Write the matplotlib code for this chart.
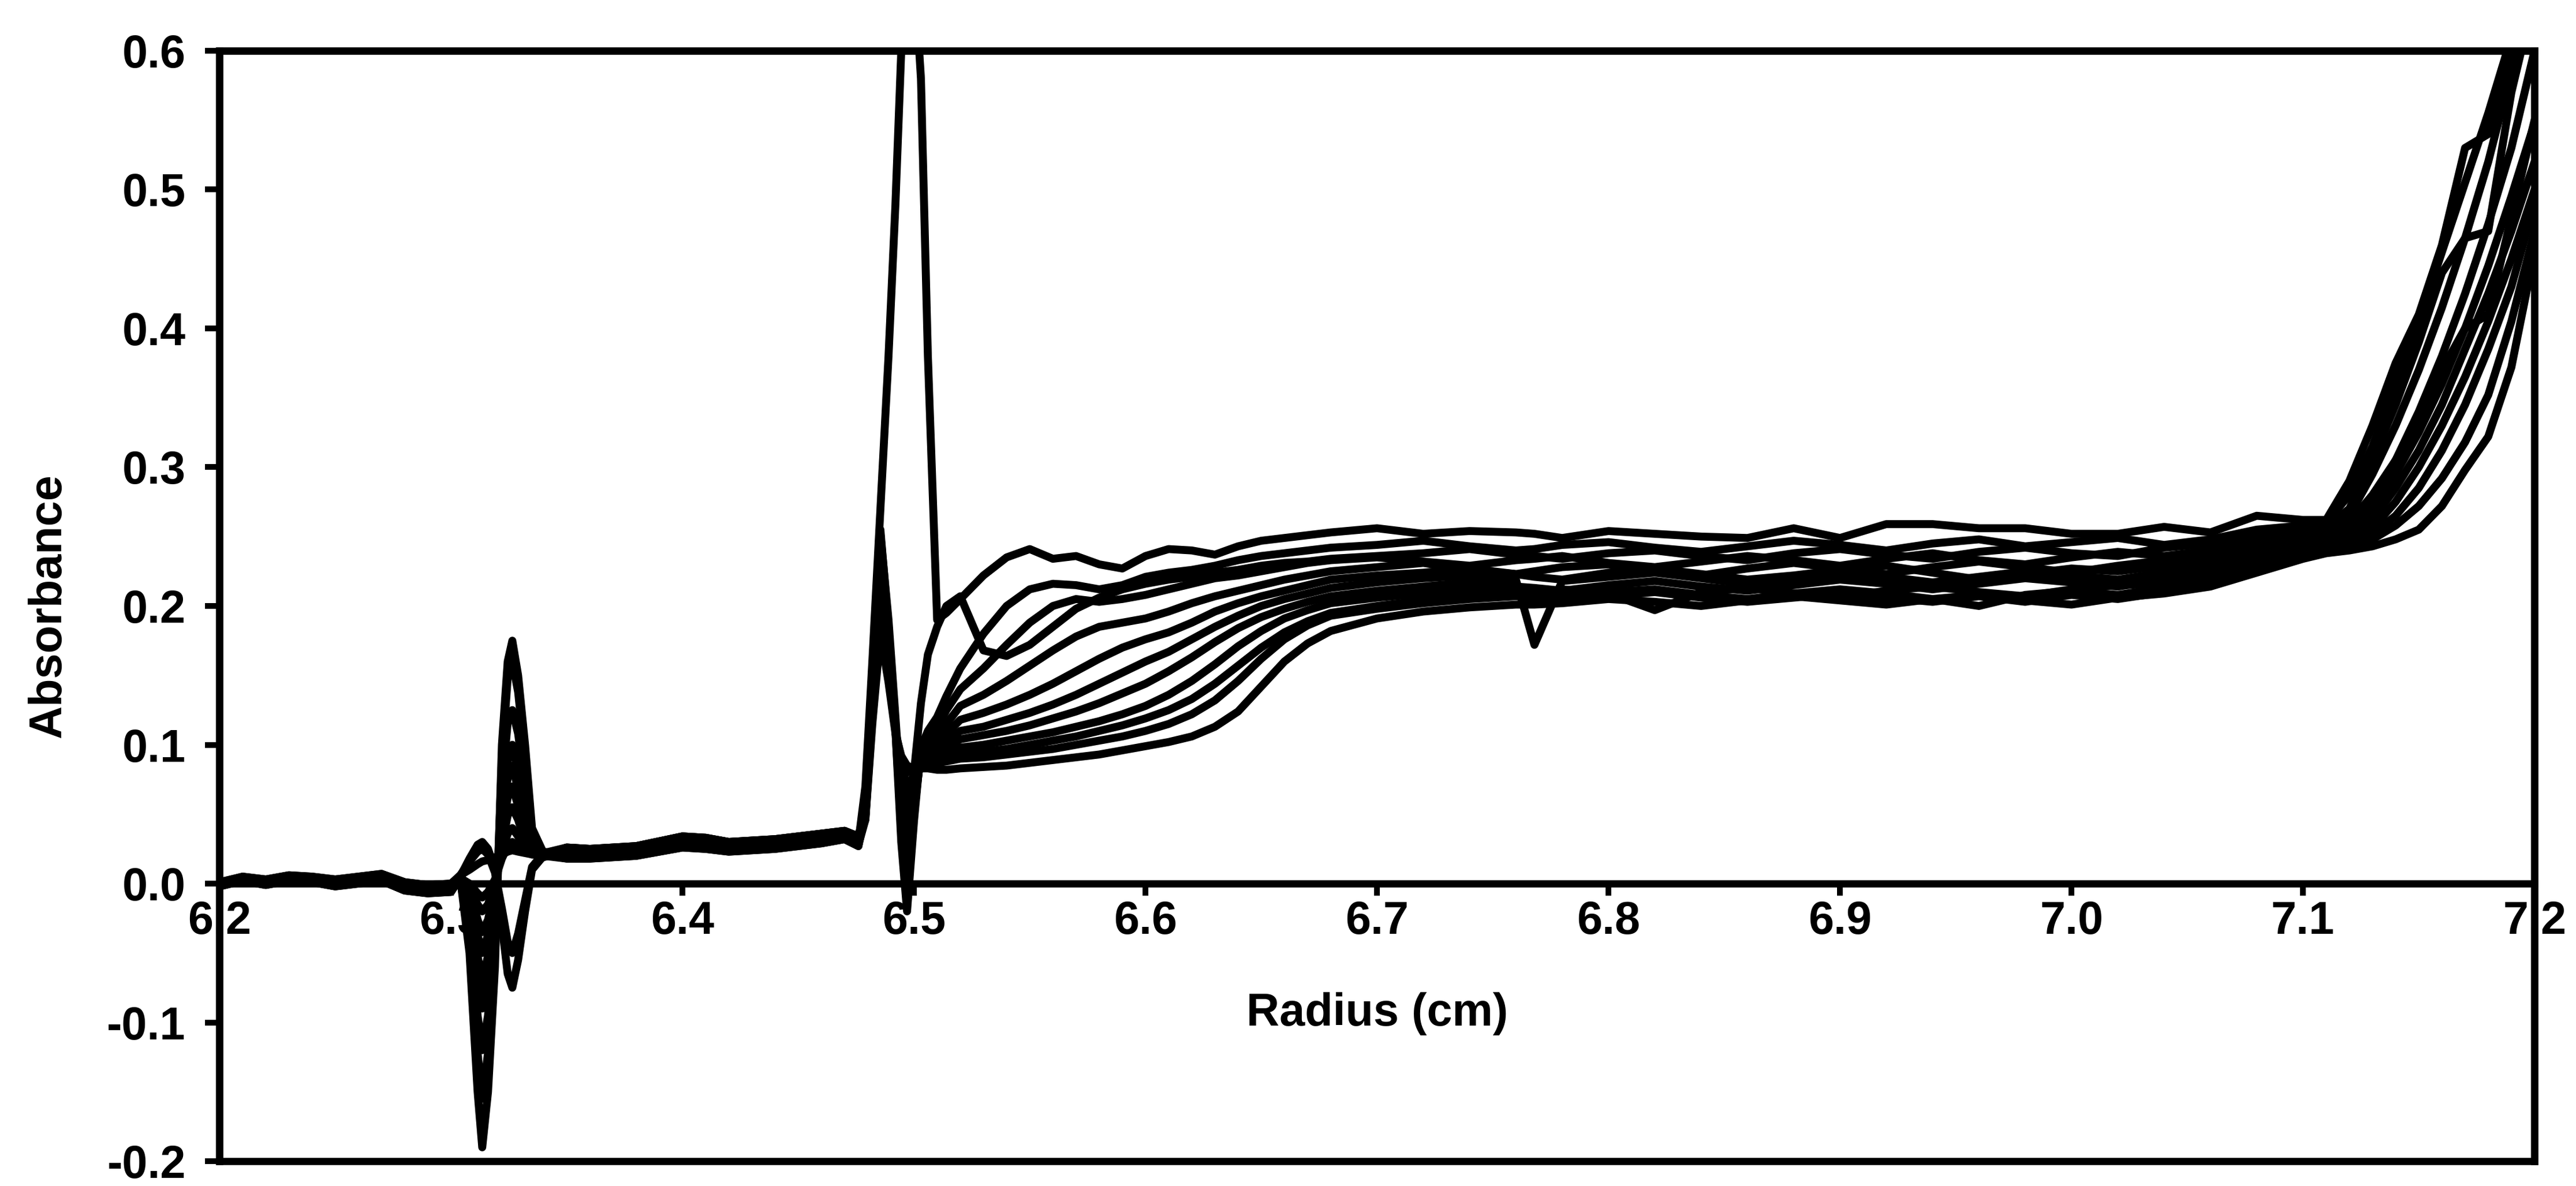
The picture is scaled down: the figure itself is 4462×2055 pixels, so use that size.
"""
Sedimentation velocity scans: absorbance vs radius, 12 overlaid scans.
"""

import matplotlib
matplotlib.use("Agg")
import matplotlib.pyplot as plt
from matplotlib.ticker import FormatStrFormatter

# ── data ──────────────────────────────────────────────────────────────────────
RADIUS = [
    6.200, 6.210, 6.220, 6.230, 6.240, 6.250, 6.260, 6.270, 6.280, 6.290, 6.300,
    6.304, 6.308, 6.3115, 6.3135, 6.316, 6.319, 6.322, 6.3245, 6.3265, 6.329, 6.332, 6.335, 6.340,
    6.350, 6.360, 6.380, 6.400, 6.410, 6.420, 6.440, 6.460, 6.470, 6.476,
    6.479, 6.482, 6.4855, 6.489, 6.492, 6.4945, 6.497, 6.500, 6.503, 6.506, 6.510, 6.514, 6.520,
    6.530, 6.540, 6.550, 6.560, 6.570, 6.580, 6.590, 6.600, 6.610, 6.620, 6.630, 6.640,
    6.650, 6.660, 6.670, 6.680,
    6.700, 6.720, 6.740, 6.760, 6.768, 6.780, 6.800, 6.820, 6.840, 6.860, 6.880, 6.900,
    6.920, 6.940, 6.960, 6.980, 7.000, 7.020, 7.040, 7.060, 7.080, 7.100,
    7.110, 7.120, 7.130, 7.140, 7.150, 7.160, 7.170, 7.180, 7.190, 7.200,
]

SCAN_01 = [
    0.000, 0.004, 0.002, 0.005, 0.003, 0.001, 0.003, 0.005, -0.001, -0.003, -0.002,
    0.004, -0.050, -0.150, -0.190, -0.150, -0.060, 0.100, 0.160, 0.175, 0.150, 0.100, 0.040, 0.022,
    0.022, 0.021, 0.023, 0.030, 0.029, 0.026, 0.028, 0.032, 0.035, 0.030,
    0.070, 0.160, 0.270, 0.380, 0.490, 0.600, 0.660, 0.660, 0.580, 0.380, 0.190, 0.195, 0.205,
    0.222, 0.235, 0.241, 0.234, 0.236, 0.230, 0.227, 0.236, 0.241, 0.240, 0.237, 0.243,
    0.247, 0.249, 0.251, 0.253,
    0.256, 0.252, 0.254, 0.253, 0.252, 0.249, 0.254, 0.252, 0.250, 0.249, 0.256, 0.249,
    0.259, 0.259, 0.256, 0.256, 0.252, 0.252, 0.257, 0.253, 0.265, 0.262,
    0.262, 0.290, 0.330, 0.375, 0.410, 0.460, 0.530, 0.540, 0.595, 0.650,
]
SCAN_02 = [
    -0.002, 0.002, 0.000, 0.003, 0.002, -0.001, 0.001, 0.003, -0.004, -0.006, -0.005,
    0.003, -0.040, -0.122, -0.155, -0.122, -0.045, 0.090, 0.148, 0.160, 0.138, 0.090, 0.036, 0.020,
    0.018, 0.018, 0.020, 0.026, 0.025, 0.023, 0.025, 0.029, 0.032, 0.027,
    0.058, 0.148, 0.252, 0.190, 0.120, 0.060, 0.030, 0.080, 0.130, 0.165, 0.185, 0.200, 0.207,
    0.168, 0.164, 0.172, 0.185, 0.198, 0.206, 0.212, 0.216, 0.219, 0.221, 0.224, 0.226,
    0.229, 0.231, 0.232, 0.234,
    0.236, 0.238, 0.241, 0.237, 0.236, 0.234, 0.238, 0.240, 0.236, 0.233, 0.238, 0.241,
    0.237, 0.234, 0.239, 0.242, 0.238, 0.236, 0.242, 0.245, 0.250, 0.254,
    0.257, 0.270, 0.305, 0.345, 0.390, 0.440, 0.465, 0.470, 0.570, 0.640,
]
SCAN_03 = [
    0.001, 0.003, 0.001, 0.004, 0.002, 0.000, 0.002, 0.004, -0.003, -0.005, -0.004,
    0.004, -0.030, -0.095, -0.120, -0.095, -0.035, 0.070, 0.116, 0.125, 0.108, 0.070, 0.030, 0.021,
    0.026, 0.025, 0.027, 0.034, 0.033, 0.030, 0.032, 0.036, 0.038, 0.034,
    0.055, 0.150, 0.255, 0.185, 0.110, 0.030, -0.020, 0.045, 0.098, 0.110, 0.120, 0.135, 0.155,
    0.180, 0.200, 0.212, 0.216, 0.215, 0.212, 0.215, 0.221, 0.224, 0.226, 0.229, 0.233,
    0.236, 0.238, 0.240, 0.242,
    0.244, 0.247, 0.243, 0.240, 0.241, 0.244, 0.246, 0.242, 0.239, 0.243, 0.247, 0.244,
    0.240, 0.245, 0.248, 0.243, 0.246, 0.249, 0.244, 0.248, 0.255, 0.258,
    0.260, 0.280, 0.315, 0.360, 0.405, 0.455, 0.505, 0.555, 0.610, 0.660,
]
SCAN_04 = [
    -0.001, 0.003, 0.002, 0.004, 0.004, 0.002, 0.004, 0.006, 0.000, -0.002, -0.001,
    0.002, -0.014, -0.067, -0.090, -0.067, -0.014, 0.051, 0.089, 0.100, 0.080, 0.046, 0.022, 0.019,
    0.024, 0.022, 0.025, 0.032, 0.030, 0.028, 0.030, 0.034, 0.036, 0.032,
    0.055, 0.150, 0.250, 0.180, 0.110, 0.040, -0.005, 0.050, 0.095, 0.105, 0.112, 0.125, 0.140,
    0.155, 0.172, 0.188, 0.200, 0.205, 0.203, 0.205, 0.208, 0.212, 0.216, 0.220, 0.222,
    0.225, 0.228, 0.231, 0.233,
    0.235, 0.232, 0.229, 0.233, 0.234, 0.236, 0.231, 0.228, 0.232, 0.236, 0.233, 0.229,
    0.234, 0.238, 0.233, 0.230, 0.235, 0.239, 0.236, 0.240, 0.246, 0.252,
    0.255, 0.265, 0.295, 0.330, 0.370, 0.415, 0.465, 0.520, 0.585, 0.630,
]
SCAN_05 = [
    0.000, 0.002, -0.001, 0.002, 0.001, -0.002, 0.000, 0.002, -0.005, -0.007, -0.006,
    0.005, -0.011, -0.052, -0.070, -0.052, -0.010, 0.043, 0.076, 0.085, 0.068, 0.040, 0.024, 0.023,
    0.020, 0.019, 0.021, 0.028, 0.027, 0.024, 0.026, 0.030, 0.033, 0.028,
    0.052, 0.145, 0.245, 0.178, 0.112, 0.050, 0.010, 0.055, 0.092, 0.100, 0.106, 0.115, 0.128,
    0.136, 0.146, 0.157, 0.168, 0.178, 0.185, 0.188, 0.191, 0.196, 0.202, 0.207, 0.211,
    0.215, 0.219, 0.222, 0.225,
    0.228, 0.231, 0.226, 0.223, 0.225, 0.228, 0.230, 0.226, 0.222, 0.227, 0.231, 0.227,
    0.223, 0.228, 0.232, 0.228, 0.224, 0.229, 0.233, 0.236, 0.242, 0.249,
    0.252, 0.260, 0.280, 0.305, 0.330, 0.370, 0.400, 0.410, 0.480, 0.550,
]
SCAN_06 = [
    0.001, 0.005, 0.003, 0.006, 0.005, 0.003, 0.005, 0.007, 0.001, -0.001, 0.000,
    0.003, -0.008, -0.037, -0.050, -0.037, -0.006, 0.036, 0.062, 0.070, 0.056, 0.034, 0.022, 0.020,
    0.022, 0.021, 0.023, 0.030, 0.029, 0.026, 0.028, 0.032, 0.035, 0.030,
    0.052, 0.142, 0.240, 0.175, 0.112, 0.058, 0.025, 0.060, 0.090, 0.097, 0.102, 0.108, 0.118,
    0.123, 0.129, 0.136, 0.144, 0.153, 0.162, 0.170, 0.176, 0.181, 0.188, 0.196, 0.202,
    0.207, 0.211, 0.215, 0.219,
    0.222, 0.224, 0.227, 0.223, 0.221, 0.219, 0.224, 0.227, 0.223, 0.219, 0.222, 0.226,
    0.229, 0.224, 0.219, 0.223, 0.227, 0.225, 0.229, 0.233, 0.238, 0.246,
    0.250, 0.255, 0.275, 0.305, 0.340, 0.380, 0.425, 0.475, 0.530, 0.600,
]
SCAN_07 = [
    0.000, 0.004, 0.002, 0.005, 0.003, 0.001, 0.003, 0.005, -0.001, -0.003, -0.002,
    0.004, -0.004, -0.026, -0.035, -0.026, -0.004, 0.028, 0.049, 0.055, 0.046, 0.030, 0.023, 0.022,
    0.026, 0.025, 0.027, 0.034, 0.033, 0.030, 0.032, 0.036, 0.038, 0.034,
    0.050, 0.138, 0.230, 0.170, 0.110, 0.064, 0.035, 0.065, 0.088, 0.094, 0.098, 0.103, 0.110,
    0.113, 0.118, 0.123, 0.129, 0.136, 0.144, 0.152, 0.160, 0.167, 0.176, 0.185, 0.193,
    0.200, 0.205, 0.209, 0.213,
    0.217, 0.220, 0.222, 0.219, 0.172, 0.218, 0.221, 0.224, 0.220, 0.216, 0.220, 0.224,
    0.221, 0.217, 0.221, 0.225, 0.222, 0.219, 0.224, 0.229, 0.235, 0.243,
    0.248, 0.252, 0.268, 0.295, 0.325, 0.360, 0.400, 0.445, 0.495, 0.548,
]
SCAN_08 = [
    0.001, 0.003, 0.001, 0.004, 0.002, 0.000, 0.002, 0.004, -0.003, -0.005, -0.004,
    0.003, -0.002, -0.015, -0.020, -0.015, 0.000, 0.022, 0.036, 0.040, 0.034, 0.026, 0.022, 0.021,
    0.018, 0.018, 0.020, 0.026, 0.025, 0.023, 0.025, 0.029, 0.032, 0.027,
    0.050, 0.135, 0.220, 0.165, 0.110, 0.072, 0.050, 0.070, 0.087, 0.092, 0.095, 0.098, 0.104,
    0.107, 0.110, 0.114, 0.119, 0.124, 0.130, 0.137, 0.144, 0.153, 0.163, 0.174, 0.184,
    0.192, 0.198, 0.203, 0.207,
    0.211, 0.214, 0.217, 0.214, 0.213, 0.211, 0.215, 0.218, 0.214, 0.211, 0.215, 0.219,
    0.216, 0.212, 0.216, 0.220, 0.217, 0.214, 0.219, 0.225, 0.232, 0.241,
    0.246, 0.250, 0.262, 0.285, 0.312, 0.345, 0.385, 0.425, 0.470, 0.520,
]
SCAN_09 = [
    -0.002, 0.002, 0.000, 0.003, 0.002, -0.001, 0.001, 0.003, -0.004, -0.006, -0.005,
    0.005, 0.018, 0.028, 0.030, 0.025, 0.010, -0.030, -0.065, -0.075, -0.055, -0.020, 0.010, 0.020,
    0.024, 0.022, 0.025, 0.032, 0.030, 0.028, 0.030, 0.034, 0.036, 0.032,
    0.048, 0.130, 0.210, 0.160, 0.110, 0.078, 0.060, 0.074, 0.086, 0.090, 0.092, 0.094, 0.098,
    0.100, 0.103, 0.106, 0.109, 0.113, 0.117, 0.122, 0.128, 0.136, 0.146, 0.158, 0.171,
    0.182, 0.191, 0.197, 0.202,
    0.206, 0.209, 0.212, 0.210, 0.209, 0.212, 0.209, 0.197, 0.210, 0.213, 0.209, 0.206,
    0.211, 0.214, 0.210, 0.207, 0.212, 0.215, 0.216, 0.222, 0.230, 0.239,
    0.244, 0.247, 0.256, 0.275, 0.300, 0.330, 0.365, 0.405, 0.450, 0.500,
]
SCAN_10 = [
    -0.001, 0.003, 0.002, 0.004, 0.004, 0.002, 0.004, 0.006, 0.000, -0.002, -0.001,
    0.006, 0.016, 0.023, 0.025, 0.021, 0.008, -0.018, -0.042, -0.050, -0.036, -0.012, 0.012, 0.022,
    0.022, 0.021, 0.023, 0.030, 0.029, 0.026, 0.028, 0.032, 0.035, 0.030,
    0.048, 0.125, 0.200, 0.155, 0.110, 0.085, 0.070, 0.078, 0.085, 0.088, 0.089, 0.091, 0.094,
    0.095, 0.097, 0.100, 0.103, 0.106, 0.110, 0.114, 0.119, 0.125, 0.133, 0.144, 0.157,
    0.170, 0.181, 0.189, 0.195,
    0.200, 0.204, 0.207, 0.209, 0.208, 0.206, 0.210, 0.212, 0.208, 0.205, 0.209, 0.212,
    0.209, 0.205, 0.200, 0.208, 0.211, 0.208, 0.213, 0.219, 0.228, 0.237,
    0.242, 0.245, 0.252, 0.265, 0.285, 0.312, 0.345, 0.385, 0.430, 0.490,
]
SCAN_11 = [
    0.000, 0.002, -0.001, 0.002, 0.001, -0.002, 0.000, 0.002, -0.005, -0.007, -0.006,
    0.004, 0.000, -0.007, -0.010, -0.006, 0.003, 0.018, 0.027, 0.030, 0.027, 0.023, 0.021, 0.021,
    0.020, 0.019, 0.021, 0.028, 0.027, 0.024, 0.026, 0.030, 0.033, 0.028,
    0.046, 0.120, 0.190, 0.150, 0.110, 0.090, 0.080, 0.082, 0.085, 0.086, 0.087, 0.088, 0.090,
    0.091, 0.093, 0.095, 0.097, 0.100, 0.103, 0.106, 0.110, 0.115, 0.122, 0.132, 0.146,
    0.162, 0.176, 0.186, 0.193,
    0.198, 0.202, 0.205, 0.207, 0.206, 0.204, 0.207, 0.210, 0.206, 0.203, 0.206, 0.209,
    0.206, 0.203, 0.207, 0.203, 0.208, 0.205, 0.210, 0.216, 0.226, 0.235,
    0.240, 0.243, 0.248, 0.258, 0.272, 0.292, 0.318, 0.352, 0.405, 0.470,
]
SCAN_12 = [
    0.001, 0.005, 0.003, 0.006, 0.005, 0.003, 0.005, 0.007, 0.001, -0.001, 0.000,
    0.006, 0.010, 0.014, 0.016, 0.017, 0.019, 0.021, 0.023, 0.024, 0.023, 0.022, 0.021, 0.020,
    0.026, 0.025, 0.027, 0.034, 0.033, 0.030, 0.032, 0.036, 0.038, 0.034,
    0.046, 0.115, 0.180, 0.145, 0.108, 0.092, 0.085, 0.083, 0.083, 0.083, 0.082, 0.082, 0.083,
    0.084, 0.085, 0.087, 0.089, 0.091, 0.093, 0.096, 0.099, 0.102, 0.106, 0.113, 0.124,
    0.142, 0.160, 0.173, 0.182,
    0.191, 0.196, 0.199, 0.201, 0.201, 0.202, 0.205, 0.203, 0.200, 0.204, 0.207, 0.204,
    0.201, 0.205, 0.208, 0.204, 0.201, 0.206, 0.209, 0.214, 0.224, 0.234,
    0.238, 0.240, 0.243, 0.248, 0.255, 0.272, 0.298, 0.322, 0.372, 0.455,
]

SCANS = [SCAN_01, SCAN_02, SCAN_03, SCAN_04, SCAN_05, SCAN_06,
         SCAN_07, SCAN_08, SCAN_09, SCAN_10, SCAN_11, SCAN_12]

X_TICKS = [6.2, 6.3, 6.4, 6.5, 6.6, 6.7, 6.8, 6.9, 7.0, 7.1, 7.2]
Y_TICKS = [-0.2, -0.1, 0.0, 0.1, 0.2, 0.3, 0.4, 0.5, 0.6]

for s in SCANS:
    assert len(s) == len(RADIUS), len(s)

# ── style ─────────────────────────────────────────────────────────────────────
plt.rcParams["font.family"] = ["Liberation Sans", "DejaVu Sans"]
plt.rcParams["font.weight"] = "bold"
plt.rcParams["axes.unicode_minus"] = False

LW_DATA  = 3.3
LW_FRAME = 3.0

# ── figure ────────────────────────────────────────────────────────────────────
fig = plt.figure(figsize=(4462 / 300, 2055 / 300), dpi=300)
ax = fig.add_axes([0.0852, 0.0209, 0.8987, 0.9363])

for s in SCANS:
    ax.plot(RADIUS, s, color="black", lw=LW_DATA, solid_joinstyle="round", zorder=3)

ax.set_xlim(X_TICKS[0], X_TICKS[-1])
ax.set_ylim(Y_TICKS[0], Y_TICKS[-1])

# x axis line sits at zero; the axes frame still closes the box at the bottom
ax.spines["bottom"].set_position(("data", 0))
for sp in ax.spines.values():
    sp.set_linewidth(LW_FRAME)
ax.patch.set_edgecolor("black")
ax.patch.set_linewidth(LW_FRAME)

ax.set_xticks(X_TICKS)
ax.set_yticks(Y_TICKS)
ax.xaxis.set_major_formatter(FormatStrFormatter("%.1f"))
ax.yaxis.set_major_formatter(FormatStrFormatter("%.1f"))
ax.tick_params(axis="x", direction="out", length=5, width=2.4, pad=2, labelsize=19)
ax.tick_params(axis="y", direction="out", length=6, width=2.4, pad=8, labelsize=19)

ax.text(-0.0736, 0.5, "Absorbance", transform=ax.transAxes, rotation=90,
        ha="center", va="center", fontsize=19, fontweight="bold")
ax.text(0.5, 0.133, "Radius (cm)", transform=ax.transAxes,
        ha="center", va="center", fontsize=19, fontweight="bold")

fig.savefig("out.png", dpi=300)
plt.close(fig)
